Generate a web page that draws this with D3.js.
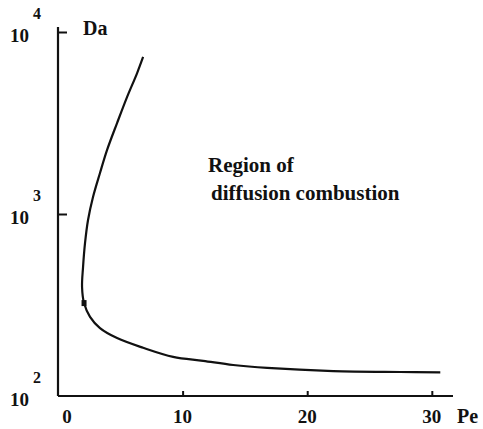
<!DOCTYPE html>
<html><head><meta charset="utf-8"><script src="https://cdn.jsdelivr.net/npm/d3@7"></script></head>
<body style="margin:0">
<script>
// Datos: número de Peclet frente a número de Damköhler
var peValues = [6.83, 6.35, 5.54, 4.74, 3.94, 3.37, 2.81, 2.41, 2.17, 2.01, 1.93, 2.09, 2.57, 3.37, 4.74, 6.83, 9.24, 11.65, 14.06, 16.79, 22.09, 27.47, 30.68];
var daValues = [7290, 5950, 4390, 3160, 2250, 1680, 1240, 927, 693, 511, 397, 324, 272, 236, 208, 184, 164, 156, 148, 142.6, 137, 135.5, 135];

// Punto marcado sobre la curva
var markerPe = [2.09];
var markerDa = [324];

// Marcas de los ejes
var xTickValues = [0, 10, 20, 30];
var yTickExponents = [2, 3, 4];

var width = 483, height = 429;

var svg = d3.select("body").append("svg")
            .attr("width", width)
            .attr("height", height);

// Escalas
var x = d3.scaleLinear().domain([0, 31.7]).range([58, 453]);
var y = d3.scaleLog().domain([100, 10000]).range([396, 32]);

var puntos = peValues.map(function(pe, i) { return { pe: pe, da: daValues[i] }; });

// Marcas del eje X (hacia arriba)
svg.append("g")
   .attr("transform", "translate(0," + y(100) + ")")
   .call(d3.axisBottom(x).tickValues(xTickValues.slice(1)).tickSizeInner(-5).tickSizeOuter(0).tickFormat(""))
   .call(function(g) { g.select(".domain").remove(); })
   .selectAll("line").attr("stroke", "#111").attr("stroke-width", 2);

// Marcas del eje Y (hacia la derecha)
svg.append("g")
   .attr("transform", "translate(" + x(0) + ",0)")
   .call(d3.axisLeft(y).tickValues(yTickExponents.slice(1).map(function(e) { return Math.pow(10, e); }))
           .tickSizeInner(-9).tickSizeOuter(0).tickFormat(""))
   .call(function(g) { g.select(".domain").remove(); })
   .selectAll("line").attr("stroke", "#111").attr("stroke-width", 2);

// Líneas de los ejes
svg.append("line")
   .attr("x1", x(0)).attr("y1", y(100))
   .attr("x2", x.range()[1]).attr("y2", y(100))
   .attr("stroke", "#111").attr("stroke-width", 2.2);
svg.append("line")
   .attr("x1", x(0)).attr("y1", y(100))
   .attr("x2", x(0)).attr("y2", y(10000) - 5)
   .attr("stroke", "#111").attr("stroke-width", 2.2);

// Curva
var linea = d3.line()
              .x(function(d) { return x(d.pe); })
              .y(function(d) { return y(d.da); })
              .curve(d3.curveCatmullRom);

svg.append("path")
   .datum(puntos)
   .attr("d", linea)
   .attr("fill", "none")
   .attr("stroke", "#111")
   .attr("stroke-width", 2.2);

svg.selectAll("rect.marca")
   .data(markerPe)
   .enter().append("rect")
   .attr("class", "marca")
   .attr("x", function(d) { return x(d) - 2.5; })
   .attr("y", function(d, i) { return y(markerDa[i]) - 3; })
   .attr("width", 5)
   .attr("height", 6)
   .attr("fill", "#111");

// Todos los textos: posición, tamaño y contenido
var etiquetas = [];
xTickValues.forEach(function(d) {
    etiquetas.push({ x: x(d) + (d === 0 ? 9 : 0), y: 423, s: 19, a: "middle", t: String(d) });
});
yTickExponents.forEach(function(d) {
    var py = y(Math.pow(10, d));
    etiquetas.push({ x: 10, y: py + 10, s: 19, a: "start", t: "10" });
    etiquetas.push({ x: 33, y: py - 13, s: 16, a: "start", t: String(d) });
});
etiquetas.push({ x: 83, y: 35, s: 20, a: "start", t: "Da" });
etiquetas.push({ x: 457, y: 423, s: 20, a: "start", t: "Pe" });
etiquetas.push({ x: 208, y: 172, s: 21, a: "start", t: "Region of" });
etiquetas.push({ x: 211, y: 200, s: 21, a: "start", t: "diffusion combustion" });

svg.selectAll("text.etiqueta")
   .data(etiquetas)
   .enter().append("text")
   .attr("class", "etiqueta")
   .attr("x", function(d) { return d.x; })
   .attr("y", function(d) { return d.y; })
   .attr("text-anchor", function(d) { return d.a; })
   .attr("font-family", function(d) { return "Liberation Serif"; })
   .attr("font-weight", "bold")
   .attr("font-size", function(d) { return d.s + "px"; })
   .attr("fill", "#111")
   .text(function(d) { return d.t; });
</script>
</body></html>
